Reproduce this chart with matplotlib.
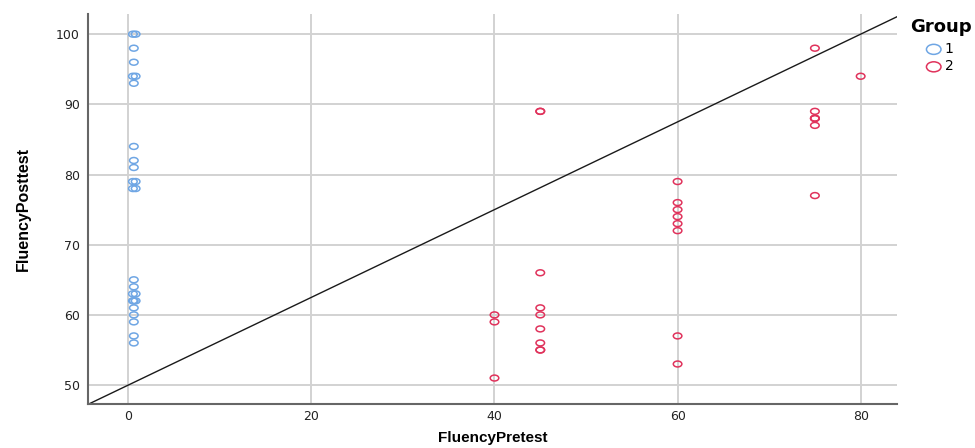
"""Scatter of fluency pretest vs posttest by group."""
import matplotlib
matplotlib.use('Agg')
import matplotlib.pyplot as plt
from matplotlib.path import Path
from matplotlib.transforms import Affine2D

# Group 1 (pretest ~0)
g1_pre = [0.5, 0.8, 0.6, 0.6, 0.5, 0.8, 0.6, 0.6, 0.6, 0.6,
          0.5, 0.8, 0.5, 0.8, 0.6, 0.6, 0.5, 0.8, 0.5, 0.8,
          0.6, 0.6, 0.6, 0.6, 0.6, 0.6]
g1_post = [100, 100, 98, 96, 94, 94, 93, 84, 82, 81,
           79, 79, 78, 78, 65, 64, 63, 63, 62, 62,
           61, 60, 59, 57, 56, 62]

# Group 2
g2_pre = [40, 40, 40,
          45, 45, 45, 45, 45, 45, 45, 45, 45,
          60, 60, 60, 60, 60, 60, 60, 60,
          75, 75, 75, 75, 75, 75, 75,
          80]
g2_post = [60, 59, 51,
           89, 89, 66, 61, 60, 58, 56, 55, 55,
           79, 76, 75, 74, 73, 72, 57, 53,
           98, 89, 88, 88, 88, 87, 77,
           94]

group_labels = ['1', '2']
colors = ['#6fa6e4', '#e0335c']

# Wide ellipse marker, like the stretched circles in the original.
ellipse = Path.unit_circle().transformed(Affine2D().scale(1.45, 1.0))

fig = plt.figure(figsize=(9.75, 4.48), dpi=100)
ax = fig.add_axes([0.0903, 0.0982, 0.830, 0.871])

ax.scatter(g1_pre, g1_post, marker=ellipse, s=38, facecolors='none',
           edgecolors=colors[0], linewidths=1.1, zorder=3,
           label=group_labels[0])
ax.scatter(g2_pre, g2_post, marker=ellipse, s=38, facecolors='none',
           edgecolors=colors[1], linewidths=1.1, zorder=3,
           label=group_labels[1])

# Reference line
ax.axline((0, 50), (80, 100), color='#1a1a1a', lw=1.0, zorder=2)

ax.set_xlim(-4.4, 84)
ax.set_ylim(47.3, 102.9)
ax.set_xticks([0, 20, 40, 60, 80])
ax.set_yticks([50, 60, 70, 80, 90, 100])
ax.grid(True, color='#d2d2d2', lw=1.4, zorder=0)
ax.set_axisbelow(True)

for side in ['top', 'right']:
    ax.spines[side].set_visible(False)
for side in ['left', 'bottom']:
    ax.spines[side].set_color('#666666')
    ax.spines[side].set_linewidth(1.5)

ax.tick_params(length=0, labelsize=9, labelcolor='#222222')
ax.tick_params(axis='x', pad=4)
ax.tick_params(axis='y', pad=6)

ax.set_xlabel('FluencyPretest', family='Liberation Sans', fontweight='bold',
              fontsize=11, labelpad=6)
ax.set_ylabel('FluencyPosttest', family='Liberation Sans', fontweight='bold',
              fontsize=11.5, labelpad=18)

# Legend title placed by hand so the entries sit indented under it
fig.text(910 / 975, 1 - 27 / 448, 'Group', fontsize=13, fontweight='bold',
         va='center', ha='left')
leg = ax.legend(loc='upper left', bbox_to_anchor=(924 / 975, 1 - 42 / 448),
                bbox_transform=fig.transFigure, frameon=False,
                fontsize=10, markerscale=1.7,
                handletextpad=0.1, labelspacing=0.25, borderpad=0,
                borderaxespad=0, handlelength=1.4)

fig.savefig('out.png', dpi=100)
